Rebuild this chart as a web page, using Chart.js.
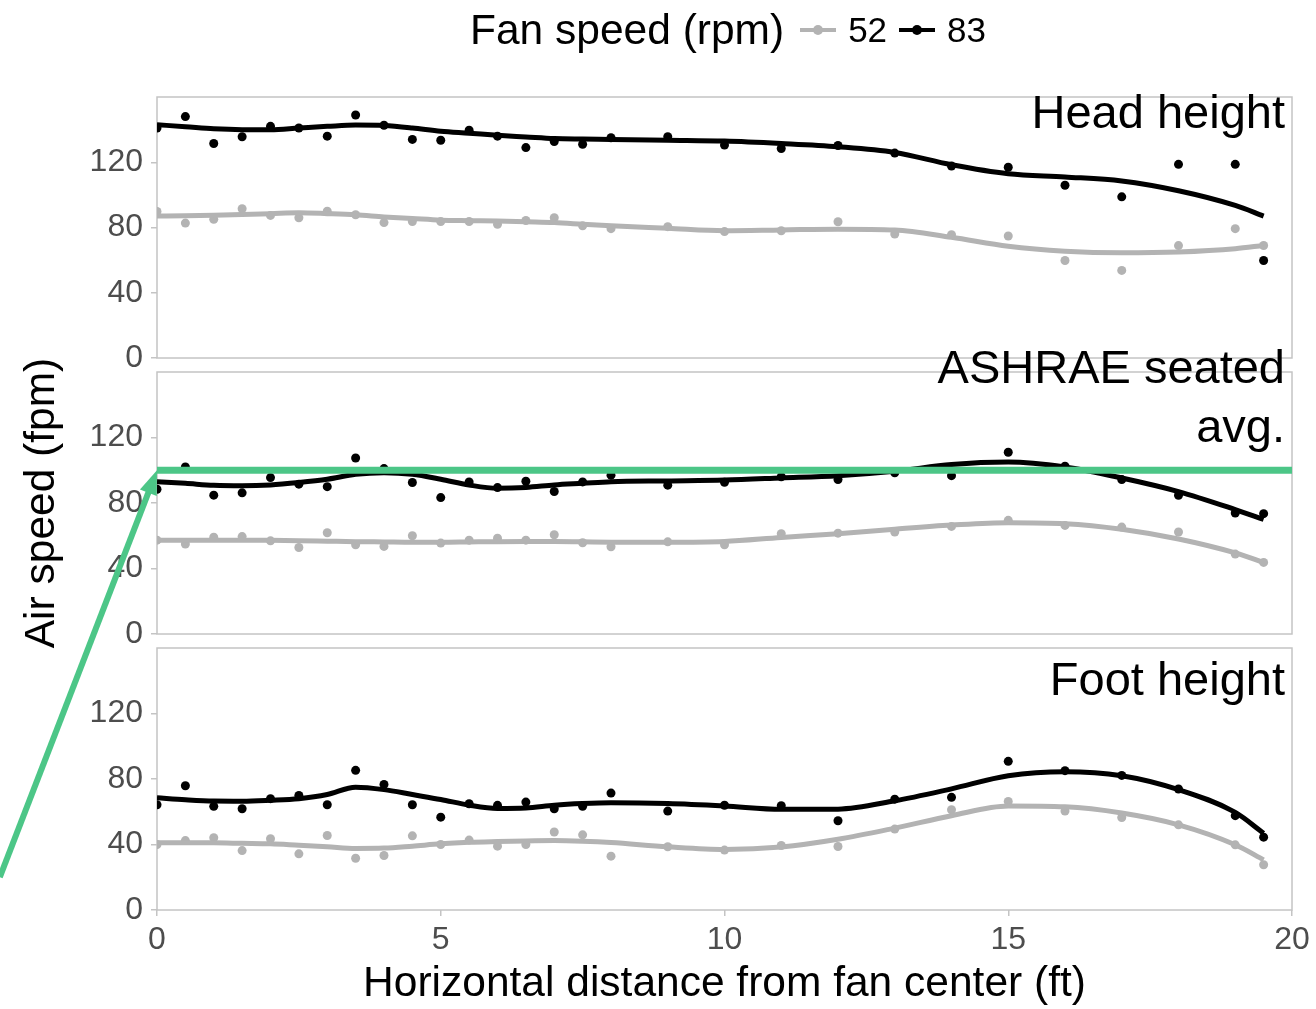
<!DOCTYPE html>
<html>
<head>
<meta charset="utf-8">
<script src="https://cdn.jsdelivr.net/npm/chart.js@4.4.1/dist/chart.umd.min.js"></script>
<style>
  body { margin: 0; background: #fff; font-family: "Liberation Sans", Arial, sans-serif; }
  #wrap { position: relative; width: 1316px; height: 1009px; overflow: hidden; background: #fff; }
  #wrap canvas { position: absolute; left: 0; top: 0; }
  #legend { position: absolute; left: 470px; top: 10px; height: 40px; display: flex; align-items: center; color: #000; white-space: nowrap; }
  #legend .ltitle { font-size: 42.5px; margin-right: 16px; }
  #legend .lab { font-size: 35px; margin: 0 12px 0 12px; }
  #legend .key { position: relative; width: 36px; height: 30px; display: inline-block; }
  #legend .key::before { content: ""; position: absolute; left: 0; right: 0; top: 13px; height: 4px; background: var(--c); }
  #legend .key::after { content: ""; position: absolute; left: 13px; top: 10px; width: 10px; height: 10px; border-radius: 50%; background: var(--c); }
</style>
</head>
<body>
<div id="wrap">
  <canvas id="p0" width="1316" height="1009"></canvas>
  <canvas id="p2" width="1316" height="1009"></canvas>
  <canvas id="p1" width="1316" height="1009"></canvas>
  <div id="legend">
    <span class="ltitle">Fan speed (rpm)</span>
    <span class="key" style="--c:#b3b3b3"></span><span class="lab">52</span>
    <span class="key" style="--c:#000"></span><span class="lab">83</span>
  </div>
</div>
<script>
// distances (ft) where air speed was measured
const xVals = [0, 0.5, 1, 1.5, 2, 2.5, 3, 3.5, 4, 4.5, 5, 5.5, 6, 6.5, 7, 7.5, 8, 9, 10, 11, 12, 13, 14, 15, 16, 17, 18, 19, 19.5];
const xTicks = [0, 5, 10, 15, 20];
const yTicks = [0, 40, 80, 120];
const fanSpeeds = ['52', '83'];
const panelNames = [['Head height'], ['ASHRAE seated', 'avg.'], ['Foot height']];

// measured points (fpm)
const headSlow = [89.8, 82.7, 85, 91.5, 87.4, 86, 90, 87.8, 83, 83.7, 83.7, 83.7, 82, 84.3, 86, 81, 79.3, 80.5, 77.5, 78, 83.5, 76, 75.6, 74.8, 59.8, 53.7, 68.9, 79.3, 69];
const headFast = [141, 148, 131.5, 135.6, 142, 141, 136, 149, 142.7, 134, 133.5, 139.6, 136, 129, 132.7, 131, 135, 135.6, 130.5, 128.4, 130.3, 125.6, 117.7, 116.9, 105.9, 98.8, 118.7, 118.7, 59.8];
const seatSlow = [57.3, 54.9, 59.1, 59.5, 56.9, 52.8, 61.8, 54.5, 53.5, 60, 55.5, 57.3, 58.5, 57.3, 60.6, 55.7, 53.3, 56.3, 54.5, 61.2, 61.6, 62.3, 65.7, 69.4, 66.3, 65.3, 62.3, 48.8, 43.7];
const seatFast = [88.4, 102, 84.8, 86.2, 95.5, 91.5, 90, 107.5, 101, 92.5, 83.3, 92.9, 89.4, 93.3, 87, 92.9, 97, 90.9, 92.7, 96, 94.3, 98.4, 96.7, 111, 102.5, 94.3, 84.7, 73.9, 73.5];
const footSlow = [40, 42.4, 44.1, 36.3, 43.5, 34.3, 45.5, 31.6, 33.3, 45.3, 40, 42.7, 39, 40, 47.6, 45.9, 32.9, 38.6, 36.6, 39.4, 38.8, 49.4, 61.2, 66.3, 60.4, 56.5, 52, 39.8, 27.6];
const footFast = [64.3, 75.9, 63.3, 61.8, 68, 70, 64.3, 85.3, 76.7, 64.3, 56.7, 64.9, 63.9, 65.9, 61.8, 63.3, 71.4, 60.4, 64, 63.7, 54.5, 67.7, 68.8, 90.8, 85.1, 82.2, 73.9, 57.6, 44.5];

// smoothed curves
const headSlowFit = [87, 87.2, 87.5, 88, 88.5, 89, 88.5, 87.8, 86.5, 85.5, 84.5, 84.2, 84, 83.5, 83, 82, 81, 79.5, 78, 78.5, 79, 78.5, 74, 68.5, 65.5, 64.5, 65, 67, 69];
const headFastFit = [143, 141.8, 140.5, 140, 140, 141, 142, 142.8, 142.5, 141, 139, 137.8, 136.5, 135.5, 134.5, 134.2, 134, 133.5, 133, 131.5, 129.5, 126, 118.5, 113, 111, 108.5, 102.5, 93.5, 87];
const seatSlowFit = [57.3, 57.3, 57.3, 57.3, 57.2, 57, 56.7, 56.4, 56.2, 56, 56, 56.2, 56.4, 56.5, 56.5, 56.3, 56.1, 56, 56.5, 59, 61.2, 64, 66.5, 68, 67.4, 64, 58, 49.5, 43.7];
const seatFastFit = [93, 92, 90.8, 90.5, 91, 92.5, 94.5, 97.5, 98.5, 97.5, 94.5, 91, 89, 89.5, 91, 92, 93, 93.5, 94, 95.3, 96.7, 99.4, 103.5, 105, 102, 95.3, 87, 76, 70];
const footSlowFit = [41, 41, 41, 40.7, 40.4, 39.5, 38.6, 37.6, 37.8, 39, 40.4, 41.3, 41.8, 42.2, 42.4, 42, 41.2, 38.6, 37, 38.5, 43.2, 50, 57.6, 63.5, 63, 59.2, 52, 39.8, 30.6];
const footFastFit = [68.5, 67.3, 66.5, 66.4, 67, 68, 70.5, 75, 73.5, 70.5, 67.5, 64, 62, 62.3, 64, 65, 65.5, 65, 63.5, 61.5, 61.6, 66.7, 74, 82, 84.5, 82, 73.5, 59.6, 46.9];

// ASHRAE seated average target and arrow tail (data units of the middle panel)
const targetX = [0, 20];
const targetY = [100, 100];
const arrowFrom = { x: -2.77, y: -148.5 };

const FONT = '"Liberation Sans", Arial, sans-serif';
const GRAY = '#b3b3b3';
const BLACK = '#000000';
const GREEN = '#4cc687';
const FRAME = '#c4c4c4';

const panelBox = [{ top: 97, bottom: 358 }, { top: 372, bottom: 634 }, { top: 648, bottom: 910 }];
const labelOffsets = [[18], [-2, 57], [34]];

function pts(xs, ys) {
    return xs.map((x, i) => ({ x: x, y: ys[i] }));
}

const framePlugin = {
    id: 'frame',
    beforeDatasetsDraw(chart) {
        const a = chart.chartArea;
        const ctx = chart.ctx;
        ctx.save();
        ctx.strokeStyle = FRAME;
        ctx.lineWidth = 1.5;
        ctx.strokeRect(a.left, a.top, a.right - a.left, a.bottom - a.top);
        ctx.restore();
    }
};

function stripPlugin(idx) {
    return {
        id: 'strip' + idx,
        afterDraw(chart) {
            const ctx = chart.ctx;
            const a = chart.chartArea;
            ctx.save();
            ctx.font = '47px ' + FONT;
            ctx.fillStyle = '#000';
            ctx.textAlign = 'right';
            ctx.textBaseline = 'middle';
            panelNames[idx].forEach((t, i) => {
                ctx.fillText(t, a.right - 7, a.top + labelOffsets[idx][i]);
            });
            ctx.restore();
        }
    };
}

const arrowPlugin = {
    id: 'arrow',
    afterDraw(chart) {
        const xs = chart.scales.x, ys = chart.scales.y;
        const tipX = xs.getPixelForValue(targetX[0]);
        const tipY = ys.getPixelForValue(targetY[0]);
        const fx = xs.getPixelForValue(arrowFrom.x);
        const fy = ys.getPixelForValue(arrowFrom.y);
        const ang = Math.atan2(tipY - fy, tipX - fx);
        const c = Math.cos(ang), s = Math.sin(ang);
        const head = 24, half = 9;
        const ctx = chart.ctx;
        ctx.save();
        ctx.strokeStyle = GREEN;
        ctx.fillStyle = GREEN;
        ctx.lineWidth = 6;
        ctx.beginPath();
        ctx.moveTo(fx, fy);
        ctx.lineTo(tipX - head * 0.8 * c, tipY - head * 0.8 * s);
        ctx.stroke();
        ctx.beginPath();
        ctx.moveTo(tipX, tipY);
        ctx.lineTo(tipX - head * c + half * s, tipY - head * s - half * c);
        ctx.lineTo(tipX - head * c - half * s, tipY - head * s + half * c);
        ctx.closePath();
        ctx.fill();
        ctx.restore();
    }
};

function makePanel(idx, slow, fast, slowFit, fastFit) {
    const showX = idx === 2;
    const datasets = [
        { label: fanSpeeds[0], data: pts(xVals, slow), showLine: false, pointRadius: 4.5, pointBackgroundColor: GRAY, pointBorderWidth: 0, order: 4 },
        { label: fanSpeeds[1], data: pts(xVals, fast), showLine: false, pointRadius: 4.5, pointBackgroundColor: BLACK, pointBorderWidth: 0, order: 3 },
        { label: fanSpeeds[0] + ' fit', data: pts(xVals, slowFit), borderColor: GRAY, borderWidth: 5, pointRadius: 0, cubicInterpolationMode: 'monotone', order: 2 },
        { label: fanSpeeds[1] + ' fit', data: pts(xVals, fastFit), borderColor: BLACK, borderWidth: 5, pointRadius: 0, cubicInterpolationMode: 'monotone', order: 1 }
    ];
    if (idx === 1) {
        datasets.push({ label: 'ASHRAE', data: pts(targetX, targetY), borderColor: GREEN, borderWidth: 7, pointRadius: 0, order: 0 });
    }
    const plugins = [framePlugin, stripPlugin(idx)];
    if (idx === 1) plugins.push(arrowPlugin);

    new Chart(document.getElementById('p' + idx), {
        type: 'line',
        data: { datasets: datasets },
        options: {
            responsive: false,
            animation: false,
            events: [],
            layout: {
                padding: {
                    left: 0,
                    right: 24,
                    top: panelBox[idx].top,
                    bottom: showX ? 3 : 1009 - panelBox[idx].bottom
                }
            },
            plugins: { legend: { display: false }, tooltip: { enabled: false } },
            scales: {
                x: {
                    type: 'linear',
                    min: 0,
                    max: 20,
                    display: showX,
                    afterBuildTicks: axis => { axis.ticks = xTicks.map(v => ({ value: v })); },
                    afterFit: axis => { if (showX) axis.height = 96; },
                    border: { display: false },
                    grid: { drawOnChartArea: false, tickLength: 6, color: FRAME, lineWidth: 1.5 },
                    ticks: { color: '#4d4d4d', font: { family: FONT, size: 32 }, padding: 5, maxRotation: 0 },
                    title: { display: true, text: 'Horizontal distance from fan center (ft)', color: '#000', font: { family: FONT, size: 42.5, lineHeight: 1 }, padding: 0 }
                },
                y: {
                    min: 0,
                    max: 160,
                    afterBuildTicks: axis => { axis.ticks = yTicks.map(v => ({ value: v })); },
                    afterFit: axis => { axis.width = 157; },
                    border: { display: false },
                    grid: { drawOnChartArea: false, tickLength: 6, color: FRAME, lineWidth: 1.5 },
                    ticks: { color: '#4d4d4d', font: { family: FONT, size: 32 }, padding: 8 },
                    title: { display: idx === 1, text: 'Air speed (fpm)', color: '#000', font: { family: FONT, size: 42.5, lineHeight: 1 }, padding: { top: 21, bottom: 0 } }
                }
            }
        },
        plugins: plugins
    });
}

makePanel(0, headSlow, headFast, headSlowFit, headFastFit);
makePanel(2, footSlow, footFast, footSlowFit, footFastFit);
makePanel(1, seatSlow, seatFast, seatSlowFit, seatFastFit);
</script>
</body>
</html>
